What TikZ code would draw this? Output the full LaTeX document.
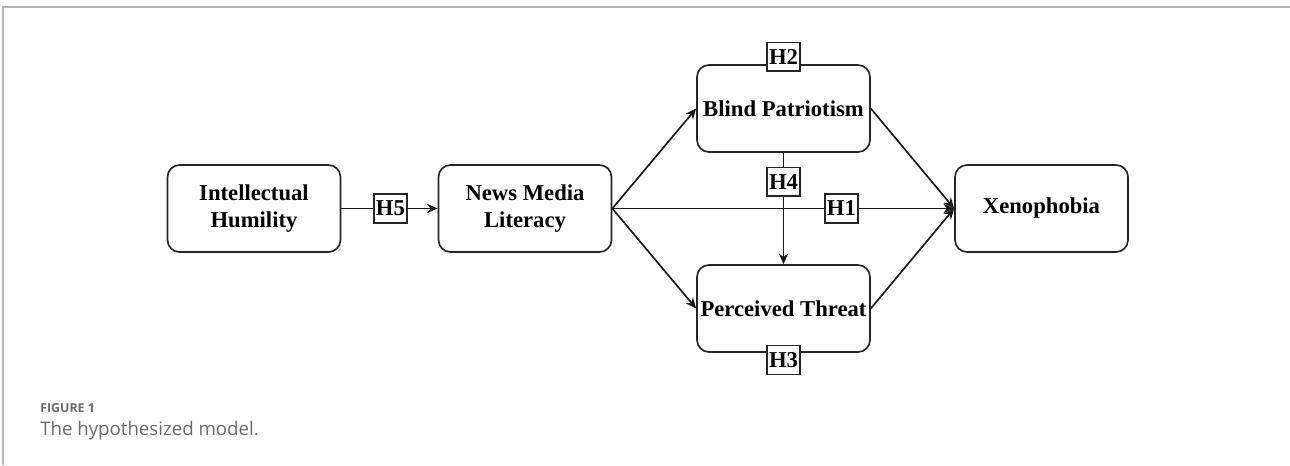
\documentclass[tikz,border=0pt]{standalone}
\usepackage{fontspec}
\setmainfont{Liberation Serif}
\newfontfamily\capfont{Open Sans}
\usetikzlibrary{arrows.meta}
\definecolor{frameGray}{HTML}{B4B4B4}
\definecolor{capGray}{HTML}{6B6B6B}
\begin{document}
\begin{tikzpicture}[x=0.75pt,y=-0.75pt,
  box/.style={draw=black!85, line width=1.25pt, rounded corners=9pt, fill=white,
    minimum width=129.75pt, minimum height=65.25pt, align=center,
    font=\fontsize{17}{20.5}\selectfont\bfseries, inner sep=2pt},
  hyp/.style={draw=black!85, line width=1.1pt, fill=white, inner sep=1.5pt,
    minimum height=21.5pt, font=\fontsize{17}{17}\selectfont\bfseries},
  conn/.style={draw=black!90, line width=1.25pt, -{Stealth[length=8pt,width=7pt]}}]
\useasboundingbox (0,0) rectangle (1290,465);
\draw[frameGray, line width=1.2pt] (3,465) -- (3,7) -- (1290,7);

\node[box] (ih) at (254,208.5) {Intellectual\\Humility};
\node[box] (nml) at (525,208.5) {News Media\\Literacy};
\node[box] (bp) at (783.5,108.5) {Blind Patriotism};
\node[box] (pt) at (783.5,308.5) {Perceived Threat};
\node[box] (xen) at (1041.5,208.5) {Xenophobia};

\draw[conn] (ih.east) -- node[hyp, pos=0.51] (h5) {H5} (nml.west);
\draw[conn] (nml.east) -- (bp.west);
\draw[conn] (nml.east) -- (pt.west);
\draw[conn] (nml.east) -- node[hyp, pos=0.67] (h1) {H1} (xen.west);
\draw[conn] (bp.south) -- node[hyp, pos=0.26] (h4) {H4} (pt.north);
\draw[conn] (bp.east) -- (xen.west);
\draw[conn] (pt.east) -- (xen.west);

\node[hyp, yshift=5.6pt] (h2) at (bp.north) {H2};
\node[hyp, yshift=-5.3pt] (h3) at (pt.south) {H3};

\node[anchor=base west, text=capGray, inner sep=0pt, font=\capfont\fontsize{9.3}{11}\selectfont\bfseries] (fig) at (40,412) {FIGURE 1};
\node[anchor=base west, text=capGray, inner sep=0pt, font=\capfont\fontsize{14}{17}\selectfont] (cap) at (40,435) {The hypothesized model.};
\end{tikzpicture}
\end{document}
